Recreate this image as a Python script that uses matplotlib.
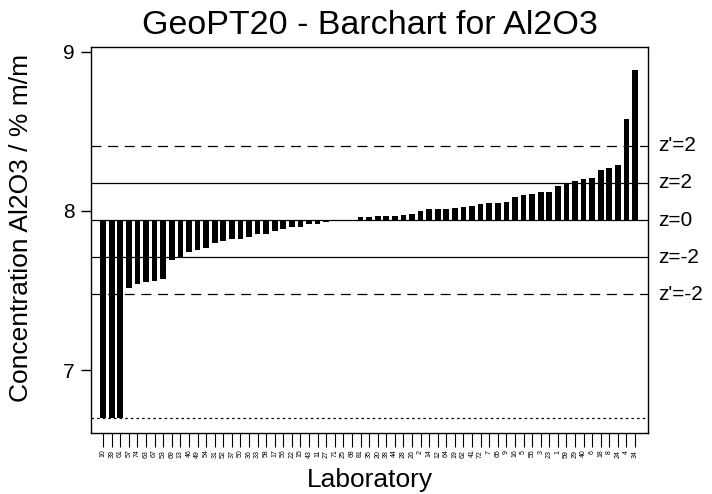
import matplotlib
matplotlib.use("Agg")
import matplotlib.pyplot as plt
import numpy as np

plt.rcParams['font.family'] = ['Liberation Sans', 'DejaVu Sans']

# laboratory codes, sorted by reported value
labs = ["10", "39", "61", "57", "74", "63", "67", "53", "69", "13", "46", "49",
        "54", "31", "52", "37", "50", "36", "33", "58", "17", "56", "22", "15",
        "43", "11", "27", "71", "25", "68", "81", "35", "20", "38", "44", "28",
        "26", "2", "14", "12", "64", "19", "62", "41", "72", "7", "65", "9",
        "16", "5", "55", "3", "23", "1", "59", "29", "40", "6", "18", "8",
        "24", "4", "34"]

# reported Al2O3 values (% m/m); first three clipped at the lower limit
values = [6.70, 6.70, 6.70, 7.516, 7.541, 7.553, 7.562, 7.574, 7.692, 7.704,
          7.744, 7.753, 7.765, 7.797, 7.813, 7.824, 7.824, 7.836, 7.855, 7.855,
          7.874, 7.887, 7.898, 7.902, 7.917, 7.918, 7.932, 7.936, 7.938, 7.941,
          7.959, 7.965, 7.969, 7.969, 7.970, 7.975, 7.982, 8.000, 8.011, 8.011,
          8.013, 8.019, 8.022, 8.033, 8.042, 8.052, 8.052, 8.058, 8.090, 8.101,
          8.105, 8.118, 8.118, 8.157, 8.174, 8.191, 8.199, 8.209, 8.258, 8.269,
          8.287, 8.577, 8.887]

assigned = 7.943
sd_z = 0.1175      # target standard deviation for z
sd_zp = 0.234      # for z'
lower_limit = 6.70

dashed = (0, (8, 5.3))
z_lines = [("z'=2", 2, sd_zp, dashed), ("z=2", 2, sd_z, "-"),
           ("z=0", 0, sd_z, "-"), ("z=-2", -2, sd_z, "-"),
           ("z'=-2", -2, sd_zp, dashed)]

fig = plt.figure(figsize=(7.12, 4.94), dpi=100)
ax = fig.add_axes([0.128, 0.1235, 0.782, 0.782])

x = np.arange(1, len(values) + 1)
v = np.array(values)
ax.bar(x, v - assigned, bottom=assigned, width=0.66, color="black", zorder=3)

for name, k, sd, ls in z_lines:
    yv = assigned + k * sd
    ax.axhline(yv, color="black", lw=0.9, ls=ls, zorder=2)
    ax.text(1.018, yv, name, transform=ax.get_yaxis_transform(),
            ha="left", va="center", fontsize=15)
ax.axhline(lower_limit, color="black", lw=0.9, ls=(0, (2, 2.5)), zorder=2)

ax.set_xlim(-0.4, 64.5)
ax.set_ylim(6.604, 9.033)
ax.set_yticks([7, 8, 9])
ax.set_xticks(x)
ax.set_xticklabels(labs, rotation=90, fontsize=5)
ax.tick_params(axis="y", labelsize=15, length=7, width=1, pad=5)
ax.tick_params(axis="x", length=10, width=0.8, pad=2)
for s in ax.spines.values():
    s.set_linewidth(1.0)

ax.set_title("GeoPT20 - Barchart for Al2O3", fontsize=24.5, pad=9)
ax.set_xlabel("Laboratory", fontsize=19)
ax.set_ylabel("Concentration Al2O3 / % m/m", fontsize=19)
ax.xaxis.set_label_coords(0.5, -0.09)
ax.yaxis.set_label_coords(-0.104, 0.53)

fig.savefig("out.png", dpi=100)
